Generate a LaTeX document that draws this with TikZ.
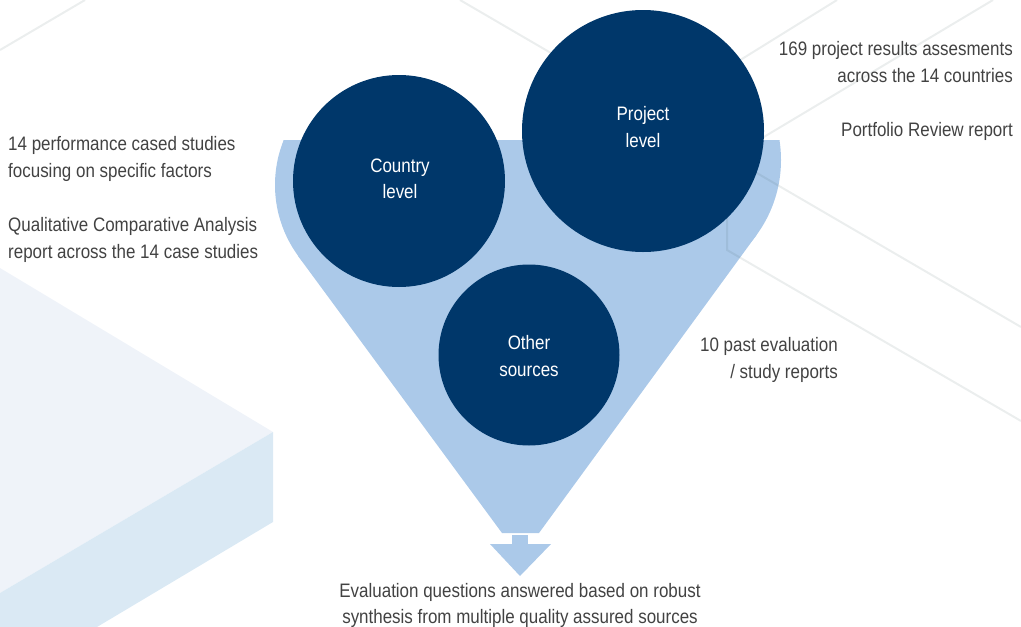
\documentclass[tikz,border=0pt]{standalone}
\usepackage{fontspec}
\setmainfont{Liberation Sans}[FakeStretch=0.87]
\definecolor{navy}{RGB}{0,55,106}
\definecolor{funnelblue}{RGB}{171,201,233}
\definecolor{slabtop}{RGB}{239,243,249}
\definecolor{slabfront}{RGB}{218,233,244}
\definecolor{gridgray}{RGB}{60,90,90}
\definecolor{bodytext}{RGB}{66,66,66}
\tikzset{
  funnelfill/.style={fill=funnelblue},
  gridline/.style={draw=gridgray, draw opacity=0.1, line width=2pt},
  bubble/.style={circle, fill=navy, draw=none, inner sep=0pt},
  txt/.style={inner sep=0pt, text=bodytext, font=\fontsize{19.5}{27}\selectfont},
  intxt/.style={inner sep=0pt, text=white, font=\fontsize{19.5}{27}\selectfont, anchor=base},
}
\begin{document}
\begin{tikzpicture}[x=1pt,y=-1pt]
\useasboundingbox (0,0) rectangle (1021,627);

% pale isometric slab on the left
\fill[slabtop] (0,268) -- (273,432) -- (0,593) -- cycle;
\fill[slabfront] (273,432) -- (273,522) -- (97,627) -- (0,627) -- (0,593) -- cycle;

% funnel body: two rounded shoulders joined by tangent sides
\begin{scope}
  \clip (0,140) rectangle (1021,627);
  \fill[funnelfill] (395,185) circle[radius=120pt];
  \fill[funnelfill] (654,160) circle[radius=127pt];
\end{scope}
\coordinate (ftl) at (283.8,140);
\coordinate (ftr) at (779.4,140);
\coordinate (frt) at (756.6,234.9);
\coordinate (fbr) at (539,533);
\coordinate (fbl) at (502,533);
\coordinate (flt) at (298.3,256.3);
\coordinate (flm) at (275,185);
\fill[funnelfill] (ftl) -- (ftr) -- (frt) -- (fbr) -- (fbl) -- (flt) -- (flm) -- cycle;

% outflow arrow below the funnel
\coordinate (stemA) at (512,535);
\coordinate (stemB) at (528,545);
\coordinate (headL) at (490,544);
\coordinate (headR) at (551,544);
\coordinate (headT) at (520,576);
\fill[funnelfill] (stemA) rectangle (stemB);
\fill[funnelfill] (headL) -- (headR) -- (headT) -- cycle;

% faint background guide lines
\draw[gridline] (0,50) -- (85,0);
\draw[gridline] (460,0) -- (1021,327);
\draw[gridline] (993,0) -- (727,159) -- (727,250) -- (1021,421);
\draw[gridline] (837,0) -- (700,85);

% the three sources
\node[bubble, minimum size=212pt] (country) at (399,181) {};
\node[bubble, minimum size=242pt] (project) at (643,131) {};
\node[bubble, minimum size=181pt] (other) at (529,355) {};

\node[intxt] (countryA) at (400,172) {Country};
\node[intxt] (countryB) at (400,198) {level};
\node[intxt] (projectA) at (643,120) {Project};
\node[intxt] (projectB) at (643,147) {level};
\node[intxt] (otherA) at (529,349) {Other};
\node[intxt] (otherB) at (529,376) {sources};

% side annotations
\node[txt, anchor=base west] (l1) at (8,150) {14 performance cased studies};
\node[txt, anchor=base west] (l2) at (8,177) {focusing on specific factors};
\node[txt, anchor=base west] (l3) at (8,231) {Qualitative Comparative Analysis};
\node[txt, anchor=base west] (l4) at (8,258) {report across the 14 case studies};

\node[txt, anchor=base east] (r1) at (1013,55) {169 project results assesments};
\node[txt, anchor=base east] (r2) at (1013,82) {across the 14 countries};
\node[txt, anchor=base east] (r3) at (1013,136) {Portfolio Review report};

\node[txt, anchor=base east] (m1) at (838,351) {10 past evaluation};
\node[txt, anchor=base east] (m2) at (838,378) {/ study reports};

\node[txt, anchor=base] (b1) at (520,597) {Evaluation questions answered based on robust};
\node[txt, anchor=base] (b2) at (520,623) {synthesis from multiple quality assured sources};
\end{tikzpicture}
\end{document}
